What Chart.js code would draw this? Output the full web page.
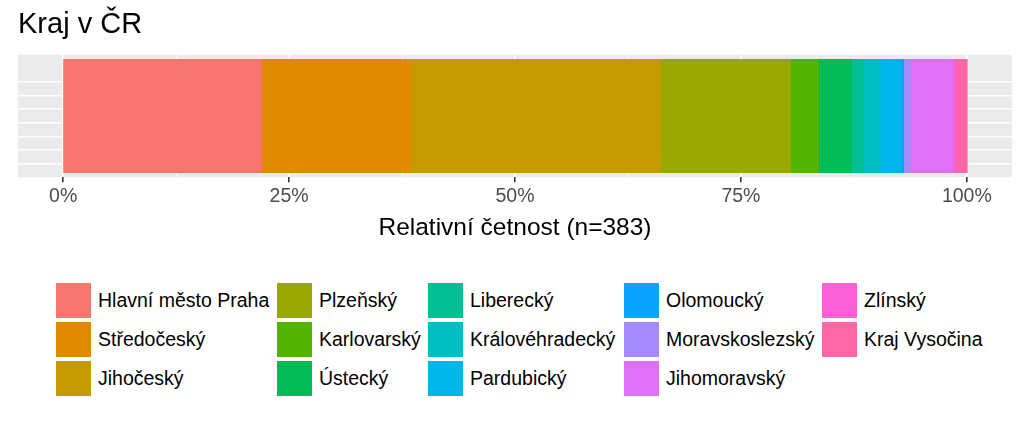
<!DOCTYPE html>
<html>
<head>
<meta charset="utf-8">
<script src="https://cdn.jsdelivr.net/npm/chart.js@4/dist/chart.umd.min.js"></script>
<style>
  body { margin: 0; background: #fff; font-family: "Liberation Sans", Arial, sans-serif; overflow: hidden; }
  #wrap { position: relative; width: 1024px; height: 423px; }
  #graf { position: absolute; left: 0; top: 0; }
  #legenda {
    position: absolute; left: 56px; top: 282px;
    display: grid;
    grid-template-columns: 221px 151px 196px 198px 180px;
    grid-template-rows: 39px 39px 39px;
    grid-auto-flow: column;
  }
  .polozka { display: flex; align-items: center; height: 39px; }
  .klic { width: 35px; height: 35px; margin-top: -3px; }
  .text { margin-left: 7px; font-size: 19.5px; color: #000; white-space: nowrap; margin-top: -3px; }
</style>
</head>
<body>
<div id="wrap">
  <canvas id="graf" width="1024" height="250"></canvas>
  <div id="legenda"></div>
</div>
<script>
// kraje a pocty respondentu (n = 383)
const kraje = [
  "Hlavní město Praha", "Středočeský", "Jihočeský", "Plzeňský", "Karlovarský",
  "Ústecký", "Liberecký", "Královéhradecký", "Pardubický", "Olomoucký",
  "Moravskoslezský", "Jihomoravský", "Zlínský", "Kraj Vysočina"
];
const pocty = [84, 63, 106, 55, 12, 14, 5, 7, 9, 1, 3, 18, 1, 5];
const barvy = [
  "#F8766D", "#E38900", "#C49A00", "#99A800", "#53B400",
  "#00BC56", "#00C094", "#00BFC4", "#00B6EB", "#06A4FF",
  "#A58AFF", "#DF70F8", "#FB61D7", "#FF66A8"
];
const ticky = [0, 0.25, 0.5, 0.75, 1];
const tickyMinor = [0.125, 0.375, 0.625, 0.875];
const ticklabels = ["0%", "25%", "50%", "75%", "100%"];

const n = pocty.reduce((a, b) => a + b, 0);

const datasets = kraje.map((k, i) => ({
  label: k,
  data: [pocty[i] / n],
  backgroundColor: barvy[i],
  borderWidth: 0,
  inflateAmount: 0.8,
  barPercentage: 0.92,
  categoryPercentage: 1,
  yAxisID: "y",
}));

// seda plocha panelu jako v ggplot
const panel = {
  id: "panel",
  beforeDraw(chart) {
    const { ctx, chartArea } = chart;
    ctx.save();
    ctx.fillStyle = "#EBEBEB";
    ctx.fillRect(chartArea.left, chartArea.top, chartArea.right - chartArea.left, chartArea.bottom - chartArea.top);
    ctx.restore();
  },
};

const isMajor = (v) => ticky.some((t) => Math.abs(t - v) < 1e-9);
const tickVal = (c) => (c && c.tick ? c.tick.value : null);

const ctx = document.getElementById("graf").getContext("2d");
const myChart = new Chart(ctx, {
  type: "bar",
  data: { labels: ["Kraj"], datasets: datasets },
  options: {
    indexAxis: "y",
    responsive: false,
    animation: false,
    layout: { padding: { left: 18, right: 12, bottom: 7 } },
    plugins: {
      legend: { display: false },
      tooltip: { enabled: false },
      title: {
        display: true,
        text: "Kraj v ČR",
        align: "start",
        color: "#000",
        font: { family: "'Liberation Sans', Arial", size: 29, weight: "normal" },
        padding: { top: 8, bottom: 12 },
      },
    },
    scales: {
      x: {
        type: "linear",
        stacked: true,
        min: -0.05,
        max: 1.05,
        afterBuildTicks(scale) {
          scale.ticks = ticky.concat(tickyMinor).sort((a, b) => a - b).map((v) => ({ value: v }));
        },
        border: { display: false },
        grid: {
          color: "#FFFFFF",
          lineWidth: (c) => (isMajor(tickVal(c)) ? 1.6 : 0.8),
          tickLength: 5,
          tickColor: (c) => (isMajor(tickVal(c)) ? "#333333" : "rgba(0,0,0,0)"),
          tickWidth: 1.6,
        },
        ticks: {
          autoSkip: false,
          maxRotation: 0,
          padding: 3,
          color: "#4D4D4D",
          font: { family: "'Liberation Sans', Arial", size: 19.5 },
          callback: (v) => {
            const i = ticky.findIndex((t) => Math.abs(t - v) < 1e-9);
            return i >= 0 ? ticklabels[i] : "";
          },
        },
        title: {
          display: true,
          text: "Relativní četnost (n=" + n + ")",
          color: "#000",
          font: { family: "'Liberation Sans', Arial", size: 24.5 },
          padding: { top: 2, bottom: 0 },
        },
      },
      y: {
        type: "category",
        stacked: true,
        display: false,
      },
      y2: {
        type: "linear",
        position: "left",
        min: 0,
        max: 8,
        afterFit(scale) { scale.width = 0; },
        ticks: { display: false, stepSize: 1 },
        border: { display: false },
        grid: {
          drawTicks: false,
          color: (c) => {
            const v = tickVal(c);
            return v === null || v === 0 || v === 8 ? "rgba(0,0,0,0)" : "#FFFFFF";
          },
          lineWidth: 1.6,
        },
      },
    },
  },
  plugins: [panel],
});

// legenda po sloupcich (3 radky, 5 sloupcu)
const legenda = document.getElementById("legenda");
myChart.data.datasets.forEach((ds) => {
  const p = document.createElement("div");
  p.className = "polozka";
  p.innerHTML = `<div class="klic" style="background:${ds.backgroundColor}"></div><div class="text">${ds.label}</div>`;
  legenda.appendChild(p);
});
</script>
</body>
</html>
